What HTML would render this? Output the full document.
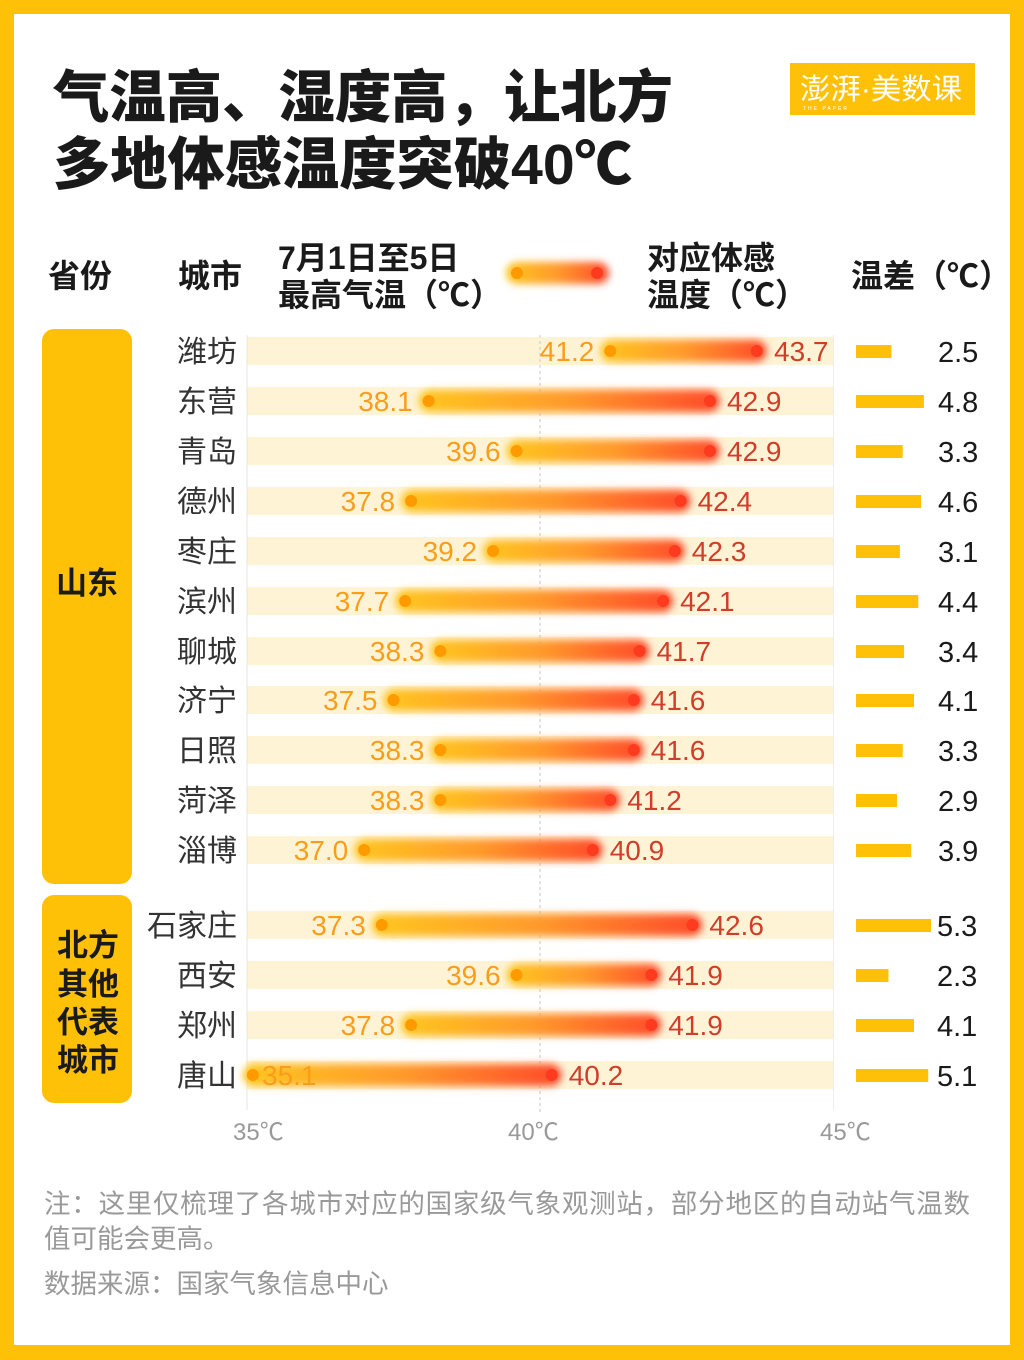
<!DOCTYPE html>
<html><head><meta charset="utf-8"><style>
html,body{margin:0;padding:0;background:#FFC107;}
svg{display:block;}
text{font-family:"Liberation Sans","Noto Sans CJK SC",sans-serif;}
</style></head><body>
<svg width="1024" height="1360" viewBox="0 0 1024 1360" xmlns="http://www.w3.org/2000/svg">
<defs>
<linearGradient id="g" x1="0" y1="0" x2="1" y2="0">
<stop offset="0" stop-color="#FFC61E"/><stop offset="0.5" stop-color="#FF9A2C"/><stop offset="1" stop-color="#FF4A2A"/>
</linearGradient>
<filter id="b" x="-15%" y="-100%" width="130%" height="300%"><feGaussianBlur stdDeviation="3.8"/></filter>
</defs>
<rect x="0" y="0" width="1024" height="1360" fill="#FFC107"/>
<rect x="14" y="14" width="996" height="1331" fill="#FFFFFF"/>

<!-- title -->
<text x="53" y="117" font-size="57" font-weight="900" fill="#1a1a1a" textLength="620" lengthAdjust="spacingAndGlyphs">气温高、湿度高，让北方</text>
<text x="53" y="184" font-size="57" font-weight="900" fill="#1a1a1a" textLength="579" lengthAdjust="spacingAndGlyphs">多地体感温度突破40℃</text>

<!-- logo -->
<rect x="790" y="63" width="185" height="52" fill="#FFC107"/>
<text x="800" y="99" font-size="29" fill="#fff" textLength="162" lengthAdjust="spacingAndGlyphs">澎湃·美数课</text>
<text x="803" y="110" font-size="5" fill="#fff" letter-spacing="2">THE PAPER</text>

<!-- header -->
<g font-size="32" font-weight="bold" fill="#1a1a1a">
<text x="48" y="287">省份</text>
<text x="178" y="287">城市</text>
<text x="278" y="269">7月1日至5日</text>
<text x="278" y="306">最高气温（℃）</text>
<text x="647" y="269">对应体感</text>
<text x="647" y="306">温度（℃）</text>
<text x="851" y="287">温差（℃）</text>
</g>
<rect x="506" y="262" width="103" height="22" rx="11" fill="url(#g)" filter="url(#b)"/>
<circle cx="517" cy="273" r="6" fill="#FF9A00"/>
<circle cx="597" cy="273" r="6" fill="#FF3B1F"/>

<!-- province boxes -->
<rect x="42" y="329" width="90" height="555" rx="12" fill="#FFC107"/>
<rect x="42" y="895" width="90" height="208" rx="12" fill="#FFC107"/>
<g font-size="31" font-weight="bold" fill="#1a1a1a" text-anchor="middle">
<text x="87" y="594">山东</text>
<text x="88" y="956">北方</text>
<text x="88" y="995">其他</text>
<text x="88" y="1033">代表</text>
<text x="88" y="1071">城市</text>
</g>

<!-- bands -->
<g fill="#FFF3D6">
<rect x="247" y="337" width="586" height="28"/>
<rect x="247" y="387" width="586" height="28"/>
<rect x="247" y="437" width="586" height="28"/>
<rect x="247" y="487" width="586" height="28"/>
<rect x="247" y="537" width="586" height="28"/>
<rect x="247" y="587" width="586" height="28"/>
<rect x="247" y="637" width="586" height="28"/>
<rect x="247" y="686" width="586" height="28"/>
<rect x="247" y="736" width="586" height="28"/>
<rect x="247" y="786" width="586" height="28"/>
<rect x="247" y="836" width="586" height="28"/>
<rect x="247" y="911" width="586" height="28"/>
<rect x="247" y="961" width="586" height="28"/>
<rect x="247" y="1011" width="586" height="28"/>
<rect x="247" y="1061" width="586" height="28"/>
</g>

<!-- axis lines -->
<line x1="247" y1="335" x2="247" y2="1110" stroke="#E6E6E6" stroke-width="1"/>
<line x1="833.5" y1="335" x2="833.5" y2="1110" stroke="#EDEDED" stroke-width="1"/>
<line x1="540" y1="335" x2="540" y2="1115" stroke="#C8C8C8" stroke-width="1" stroke-dasharray="3,3"/>

<!-- bars -->
<g fill="url(#g)" filter="url(#b)">
<rect x="600.3" y="340" width="166.5" height="22" rx="11"/>
<rect x="418.7" y="390" width="301.2" height="22" rx="11"/>
<rect x="506.6" y="440" width="213.3" height="22" rx="11"/>
<rect x="401.1" y="490" width="289.5" height="22" rx="11"/>
<rect x="483.1" y="540" width="201.7" height="22" rx="11"/>
<rect x="395.2" y="590" width="277.9" height="22" rx="11"/>
<rect x="430.4" y="640" width="219.2" height="22" rx="11"/>
<rect x="383.5" y="689" width="260.3" height="22" rx="11"/>
<rect x="430.4" y="739" width="213.4" height="22" rx="11"/>
<rect x="430.4" y="789" width="189.9" height="22" rx="11"/>
<rect x="354.2" y="839" width="248.5" height="22" rx="11"/>
<rect x="371.8" y="914" width="330.6" height="22" rx="11"/>
<rect x="506.6" y="964" width="154.7" height="22" rx="11"/>
<rect x="401.1" y="1014" width="260.2" height="22" rx="11"/>
<rect x="242.9" y="1064" width="318.8" height="22" rx="11"/>
</g>

<!-- dots -->
<g fill="#FF9A00">
<circle cx="610.3" cy="351" r="6"/><circle cx="428.7" cy="401" r="6"/><circle cx="516.6" cy="451" r="6"/>
<circle cx="411.1" cy="501" r="6"/><circle cx="493.1" cy="551" r="6"/><circle cx="405.2" cy="601" r="6"/>
<circle cx="440.4" cy="651" r="6"/><circle cx="393.5" cy="700" r="6"/><circle cx="440.4" cy="750" r="6"/>
<circle cx="440.4" cy="800" r="6"/><circle cx="364.2" cy="850" r="6"/><circle cx="381.8" cy="925" r="6"/>
<circle cx="516.6" cy="975" r="6"/><circle cx="411.1" cy="1025" r="6"/><circle cx="252.9" cy="1075" r="6"/>
</g>
<g fill="#FF3B1F">
<circle cx="756.8" cy="351" r="6"/><circle cx="709.9" cy="401" r="6"/><circle cx="709.9" cy="451" r="6"/>
<circle cx="680.6" cy="501" r="6"/><circle cx="674.8" cy="551" r="6"/><circle cx="663.1" cy="601" r="6"/>
<circle cx="639.6" cy="651" r="6"/><circle cx="633.8" cy="700" r="6"/><circle cx="633.8" cy="750" r="6"/>
<circle cx="610.3" cy="800" r="6"/><circle cx="592.7" cy="850" r="6"/><circle cx="692.4" cy="925" r="6"/>
<circle cx="651.3" cy="975" r="6"/><circle cx="651.3" cy="1025" r="6"/><circle cx="551.7" cy="1075" r="6"/>
</g>

<!-- low labels -->
<g font-size="28" fill="#FA9D1A" text-anchor="end">
<text x="594.3" y="361">41.2</text>
<text x="412.7" y="411">38.1</text>
<text x="500.6" y="461">39.6</text>
<text x="395.1" y="511">37.8</text>
<text x="477.1" y="561">39.2</text>
<text x="389.2" y="611">37.7</text>
<text x="424.4" y="661">38.3</text>
<text x="377.5" y="710">37.5</text>
<text x="424.4" y="760">38.3</text>
<text x="424.4" y="810">38.3</text>
<text x="348.2" y="860">37.0</text>
<text x="365.8" y="935">37.3</text>
<text x="500.6" y="985">39.6</text>
<text x="395.1" y="1035">37.8</text>
</g>
<text x="262" y="1085" font-size="28" fill="#FA9D1A">35.1</text>

<!-- high labels -->
<g font-size="28" fill="#CF3E29">
<text x="774" y="361">43.7</text>
<text x="727" y="411">42.9</text>
<text x="727" y="461">42.9</text>
<text x="697.6" y="511">42.4</text>
<text x="691.8" y="561">42.3</text>
<text x="680.1" y="611">42.1</text>
<text x="656.6" y="661">41.7</text>
<text x="650.8" y="710">41.6</text>
<text x="650.8" y="760">41.6</text>
<text x="627.3" y="810">41.2</text>
<text x="609.7" y="860">40.9</text>
<text x="709.4" y="935">42.6</text>
<text x="668.3" y="985">41.9</text>
<text x="668.3" y="1035">41.9</text>
<text x="568.7" y="1085">40.2</text>
</g>

<!-- city names -->
<g font-size="30" fill="#333" text-anchor="end">
<text x="237" y="362">潍坊</text>
<text x="237" y="412">东营</text>
<text x="237" y="462">青岛</text>
<text x="237" y="512">德州</text>
<text x="237" y="562">枣庄</text>
<text x="237" y="612">滨州</text>
<text x="237" y="662">聊城</text>
<text x="237" y="711">济宁</text>
<text x="237" y="761">日照</text>
<text x="237" y="811">菏泽</text>
<text x="237" y="861">淄博</text>
<text x="237" y="936">石家庄</text>
<text x="237" y="986">西安</text>
<text x="237" y="1036">郑州</text>
<text x="237" y="1086">唐山</text>
</g>

<!-- diff bars -->
<g fill="#FFC107">
<rect x="856" y="345" width="35.4" height="13"/>
<rect x="856" y="395" width="67.9" height="13"/>
<rect x="856" y="445" width="46.7" height="13"/>
<rect x="856" y="495" width="65.1" height="13"/>
<rect x="856" y="545" width="43.9" height="13"/>
<rect x="856" y="595" width="62.3" height="13"/>
<rect x="856" y="645" width="48.1" height="13"/>
<rect x="856" y="694" width="58" height="13"/>
<rect x="856" y="744" width="46.7" height="13"/>
<rect x="856" y="794" width="41" height="13"/>
<rect x="856" y="844" width="55.2" height="13"/>
<rect x="856" y="919" width="75" height="13"/>
<rect x="856" y="969" width="32.5" height="13"/>
<rect x="856" y="1019" width="58" height="13"/>
<rect x="856" y="1069" width="72.2" height="13"/>
</g>
<g font-size="29" fill="#1a1a1a">
<text x="938" y="362">2.5</text>
<text x="938" y="412">4.8</text>
<text x="938" y="462">3.3</text>
<text x="938" y="512">4.6</text>
<text x="938" y="562">3.1</text>
<text x="938" y="612">4.4</text>
<text x="938" y="662">3.4</text>
<text x="938" y="711">4.1</text>
<text x="938" y="761">3.3</text>
<text x="938" y="811">2.9</text>
<text x="938" y="861">3.9</text>
<text x="937" y="936">5.3</text>
<text x="937" y="986">2.3</text>
<text x="937" y="1036">4.1</text>
<text x="937" y="1086">5.1</text>
</g>

<!-- axis labels -->
<g font-size="24" fill="#999">
<text x="233" y="1140">35℃</text>
<text x="508" y="1140">40℃</text>
<text x="820" y="1140">45℃</text>
</g>

<!-- footer -->
<g font-size="26.5" fill="#999">
<text x="44" y="1213" textLength="926">注：这里仅梳理了各城市对应的国家级气象观测站，部分地区的自动站气温数</text>
<text x="44" y="1248">值可能会更高。</text>
<text x="44" y="1293">数据来源：国家气象信息中心</text>
</g>
</svg>
</body></html>
